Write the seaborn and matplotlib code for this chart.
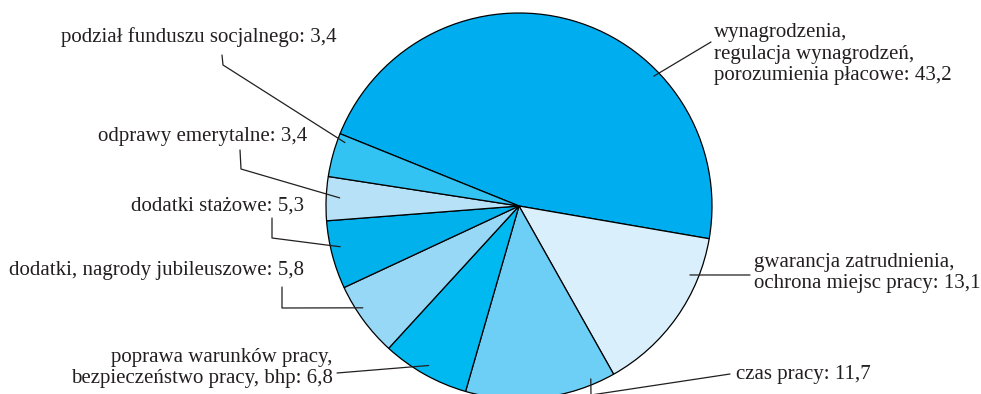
import matplotlib.pyplot as plt
import numpy as np
import seaborn as sns

LABELS = [
    "wynagrodzenia,\nregulacja wynagrodzeń,\nporozumienia płacowe: 43,2",
    "gwarancja zatrudnienia,\nochrona miejsc pracy: 13,1",
    "czas pracy: 11,7",
    "poprawa warunków pracy,\nbezpieczeństwo pracy, bhp: 6,8",
    "dodatki, nagrody jubileuszowe: 5,8",
    "dodatki stażowe: 5,3",
    "odprawy emerytalne: 3,4",
    "podział funduszu socjalnego: 3,4",
]
VALUES = [43.2, 13.1, 11.7, 6.8, 5.8, 5.3, 3.4, 3.4]
COLORS = ["#00AEEF", "#D9EFFC", "#6DCFF6", "#00B9F1",
          "#97D8F7", "#00B1EB", "#B6E1F7", "#33C3F2"]

# pie geometry in pixels
W, H = 981, 394
CX, CY, R = 519, 206, 193

# label layout: text pos (px), ha, connector elbow points (px), anchor (t along wedge, radius)
LAYOUT = [
    ((714, 54), "left", [(711, 42)], (0.68, 0.97)),
    ((754, 273), "left", [(750, 275)], (0.24, 0.955)),
    ((736, 375), "left", [(730, 374), (591, 395)], (0.15, 0.97)),
    ((333, 368), "right", [(337, 373)], (0.51, 0.95)),
    ((304, 271), "right", [(282, 287), (282, 308)], (0.64, 0.966)),
    ((304, 206), "right", [(272, 218), (272, 238)], (0.59, 0.95)),
    ((307, 137), "right", [(240, 150), (241, 169)], (0.53, 0.93)),
    ((337, 37), "right", [(222, 55), (223, 65)], (0.85, 0.96)),
]


def px(x, y):
    return (x - CX) / R, (CY - y) / R


def main() -> None:
    sns.set_theme(style="white")
    plt.rcParams["font.family"] = ["Liberation Serif", "DejaVu Serif"]

    fig = plt.figure(figsize=(W / 100, H / 100), dpi=100)
    ax = fig.add_axes([0, 0, 1, 1])
    wedges, _ = ax.pie(
        VALUES,
        colors=COLORS,
        startangle=158,
        counterclock=False,
        radius=1,
        wedgeprops={"edgecolor": "black", "linewidth": 0.9},
    )
    ax.set_xlim(px(0, 0)[0], px(W, 0)[0])
    ax.set_ylim(px(0, H)[1], px(0, 0)[1])
    ax.set_aspect("auto")
    ax.axis("off")

    for wedge, label, (tpos, ha, elbows, (t, r)) in zip(wedges, LABELS, LAYOUT):
        start, end = wedge.theta2, wedge.theta1  # clockwise
        ang = np.deg2rad(start - t * (start - end))
        anchor = (r * np.cos(ang), r * np.sin(ang))
        pts = [px(*p) for p in elbows] + [anchor]
        xs, ys = zip(*pts)
        ax.plot(xs, ys, color="#231F20", lw=0.9, clip_on=False)
        tx, ty = px(*tpos)
        ax.text(tx, ty, label, ha=ha, va="center", multialignment=ha,
                fontsize=15, color="#231F20", linespacing=1.16)

    fig.savefig("out.png", dpi=100)
    plt.close(fig)


if __name__ == "__main__":
    main()
